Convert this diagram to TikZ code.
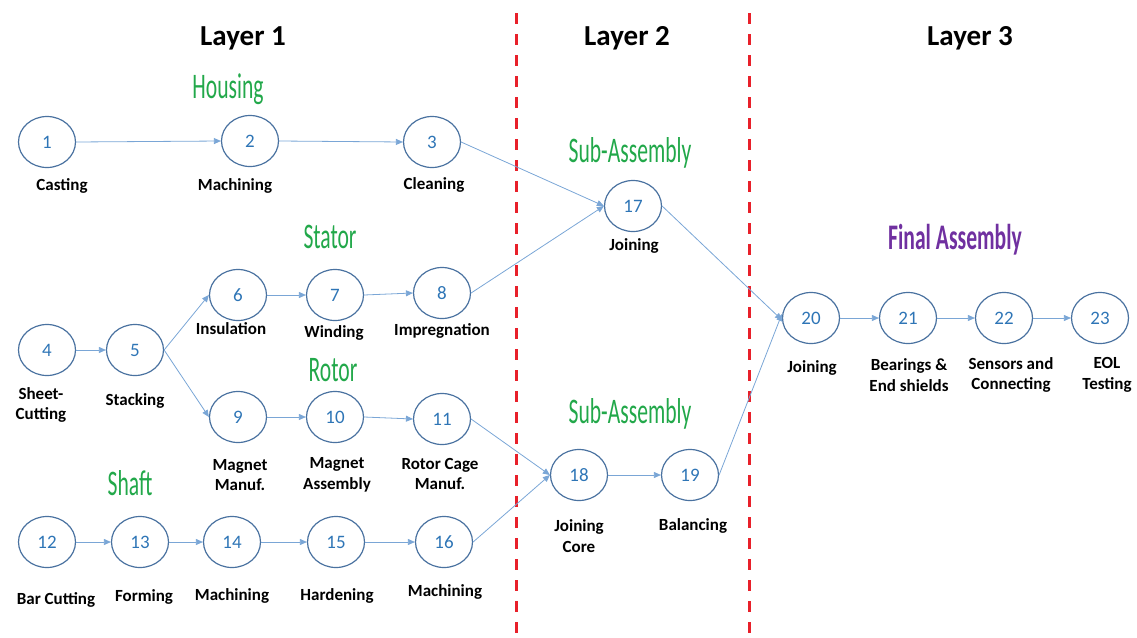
\documentclass[tikz,border=0pt]{standalone}
\usepackage{fontspec}
\setmainfont{Carlito}
\usetikzlibrary{arrows.meta,shapes.geometric}
\definecolor{ringc}{HTML}{4A72A0}
\definecolor{numc}{HTML}{2E75B6}
\definecolor{edgec}{HTML}{7AA6D6}
\definecolor{grn}{HTML}{22A84A}
\definecolor{purp}{HTML}{7030A0}
\definecolor{redd}{HTML}{E8202A}
\newcommand{\agency}[1]{\scalebox{0.6}[1]{\fontsize{36}{36}\selectfont #1}}
\tikzset{
  proc/.style={draw=ringc, line width=1.2pt, ellipse, minimum width=57pt, minimum height=51pt, inner sep=0pt, font=\fontsize{19}{19}\selectfont, text=numc},
  lbl/.style={font=\bfseries\fontsize{17}{20.5}\selectfont, align=center, text=black},
  hdr/.style={font=\bfseries\fontsize{29}{29}\selectfont, text=black},
  grp/.style={text=grn},
  flow/.style={draw=edgec, line width=0.8pt, -{Triangle[length=7pt,width=6pt]}},
  sep/.style={draw=redd, line width=3pt, dash pattern=on 11pt off 10pt}
}
\begin{document}
\begin{tikzpicture}[x=1pt,y=-1pt]
\useasboundingbox (0,0) rectangle (1137,637);
% separators
\coordinate (s1a) at (516,13); \coordinate (s1b) at (516,637);
\coordinate (s2a) at (749,13); \coordinate (s2b) at (749,637);
\draw[sep] (s1a) -- (s1b);
\draw[sep] (s2a) -- (s2b);
% headers
\node[hdr] (L1) at (243,38) {Layer 1};
\node[hdr] (L2) at (627,38) {Layer 2};
\node[hdr] (L3) at (970,38) {Layer 3};
% group titles
\node[grp] (gH) at (228,89) {\agency{Housing}};
\node[grp] (gS) at (330,237) {\agency{Stator}};
\node[grp] (gR) at (333,370) {\agency{Rotor}};
\node[grp] (gSh) at (130,483) {\agency{Shaft}};
\node[grp] (gSA1) at (630,153) {\agency{Sub-Assembly}};
\node[grp] (gSA2) at (630,414) {\agency{Sub-Assembly}};
\node[text=purp] (gF) at (955,240) {\agency{\bfseries Final Assembly}};
% nodes
\node[proc] (n1) at (47,142) {1};
\node[proc] (n2) at (250,141) {2};
\node[proc] (n3) at (432,142) {3};
\node[proc] (n17) at (633,206) {17};
\node[proc] (n6) at (238,295) {6};
\node[proc] (n7) at (335,295) {7};
\node[proc] (n8) at (442,293) {8};
\node[proc] (n4) at (47,350) {4};
\node[proc] (n5) at (135,350) {5};
\node[proc] (n9) at (238,417) {9};
\node[proc] (n10) at (335,417) {10};
\node[proc] (n11) at (442,419) {11};
\node[proc] (n12) at (47,542) {12};
\node[proc] (n13) at (140,542) {13};
\node[proc] (n14) at (232,542) {14};
\node[proc] (n15) at (336,542) {15};
\node[proc] (n16) at (444,542) {16};
\node[proc] (n18) at (579,475) {18};
\node[proc] (n19) at (690,475) {19};
\node[proc] (n20) at (811,318) {20};
\node[proc] (n21) at (908,318) {21};
\node[proc] (n22) at (1004,318) {22};
\node[proc] (n23) at (1100,318) {23};
% labels
\node[lbl] (t1) at (62,186) {Casting};
\node[lbl] (t2) at (235,186) {Machining};
\node[lbl] (t3) at (434,185) {Cleaning};
\node[lbl] (t17) at (634,246) {Joining};
\node[lbl] (t6) at (231,329) {Insulation};
\node[lbl] (t7) at (334,333) {Winding};
\node[lbl] (t8) at (442,331) {Impregnation};
\node[lbl] (t4) at (41,405) {Sheet-\\Cutting};
\node[lbl] (t5) at (135,401) {Stacking};
\node[lbl] (t9) at (240,475) {Magnet\\Manuf.};
\node[lbl] (t10) at (337,475) {Magnet\\Assembly};
\node[lbl] (t11) at (440,474) {Rotor Cage\\Manuf.};
\node[lbl] (t18) at (579,536) {Joining\\Core};
\node[lbl] (t19) at (693,526) {Balancing};
\node[lbl] (t16) at (445,592) {Machining};
\node[lbl] (t12) at (56,600) {Bar Cutting};
\node[lbl] (t13) at (144,597) {Forming};
\node[lbl] (t14) at (232,596) {Machining};
\node[lbl] (t15) at (337,596) {Hardening};
\node[lbl] (t20) at (812,368) {Joining};
\node[lbl] (t21) at (909,375) {Bearings \&\\End shields};
\node[lbl] (t22) at (1011,375) {Sensors and\\Connecting};
\node[lbl] (t23) at (1107,375) {EOL\\Testing};
% connectors
\draw[flow] (n1.east) -- (n2.west);
\draw[flow] (n2.east) -- (n3.west);
\draw[flow] (n3.east) -- (n17.west);
\draw[flow] (n8.east) -- (n17.west);
\draw[flow] (n17.east) -- ([yshift=-2pt]n20.west);
\draw[flow] (n4.east) -- (n5.west);
\draw[flow] (n5.east) -- (n6.west);
\draw[flow] (n5.east) -- (n9.west);
\draw[flow] (n6.east) -- (n7.west);
\draw[flow] (n7.east) -- (n8.west);
\draw[flow] (n9.east) -- (n10.west);
\draw[flow] (n10.east) -- (n11.west);
\draw[flow] (n11.east) -- (n18.west);
\draw[flow] (n16.east) -- (n18.west);
\draw[flow] (n18.east) -- (n19.west);
\draw[flow] (n19.east) -- ([yshift=4pt]n20.west);
\draw[flow] (n20.east) -- (n21.west);
\draw[flow] (n21.east) -- (n22.west);
\draw[flow] (n22.east) -- (n23.west);
\draw[flow] (n12.east) -- (n13.west);
\draw[flow] (n13.east) -- (n14.west);
\draw[flow] (n14.east) -- (n15.west);
\draw[flow] (n15.east) -- (n16.west);
\end{tikzpicture}
\end{document}
